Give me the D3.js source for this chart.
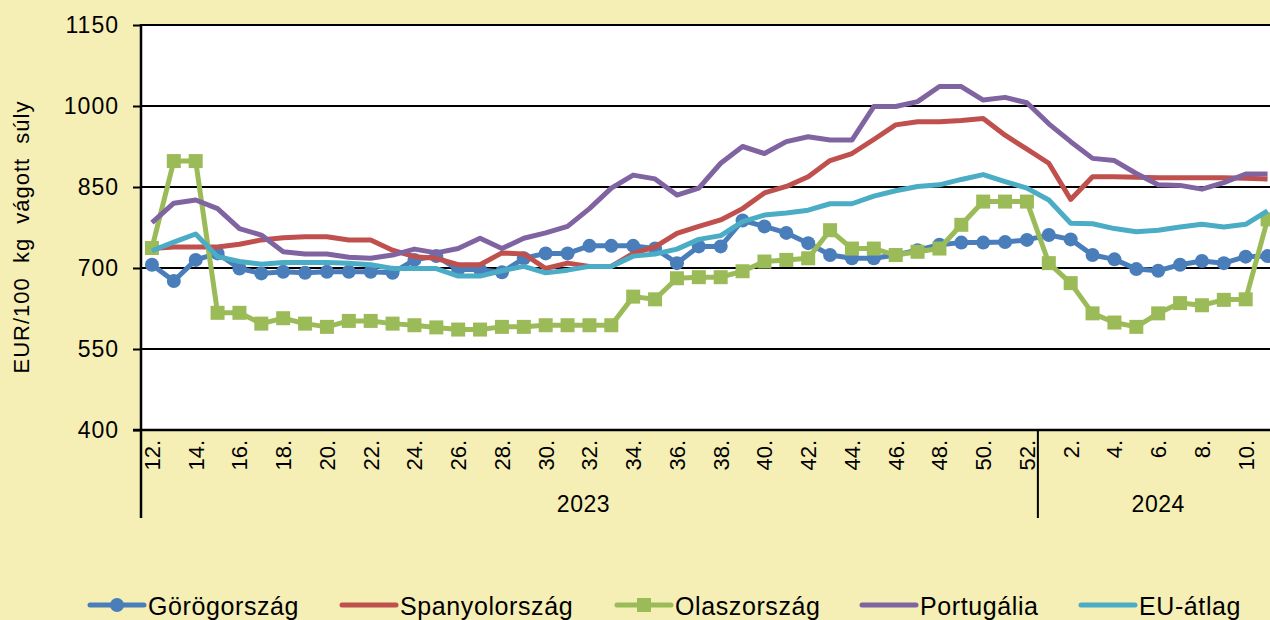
<!DOCTYPE html>
<html>
<head>
<meta charset="utf-8">
<script src="https://cdn.jsdelivr.net/npm/d3@7"></script>
<style>
  html, body { margin: 0; padding: 0; background: #f5efb5; overflow: hidden; }
  svg { display: block; font-family: "Liberation Sans", Arial, sans-serif; }
</style>
</head>
<body>
<svg id="chart" width="1270" height="620"></svg>
<script>
// Weekly carcass prices, EUR/100 kg, week 12/2023 – week 11/2024
const weeks2023 = [12,13,14,15,16,17,18,19,20,21,22,23,24,25,26,27,28,29,30,31,32,33,34,35,36,37,38,39,40,41,42,43,44,45,46,47,48,49,50,51,52];
const weeks2024 = [1,2,3,4,5,6,7,8,9,10,11];
const years = ["2023", "2024"];
const yTicks = [400, 550, 700, 850, 1000, 1150];

const greece = [706,676,715,727,699,690,693,691,693,693,693,691,715,722,697,697,692,718,727,727,741,741,741,736,709,740,740,788,777,765,746,724,718,718,724,733,743,747,747,748,752,761,753,724,716,698,695,706,713,709,721,722];
const spain = [736,739,739,739,744,752,756,758,758,752,752,733,721,718,706,706,728,726,699,709,703,703,727,739,764,777,789,810,839,851,869,899,912,938,965,971,971,973,977,946,920,894,827,869,869,868,867,867,867,867,866,865];
const italy = [737,898,898,617,617,597,607,597,591,602,602,597,594,590,586,586,591,591,594,594,594,594,647,642,681,683,683,694,712,715,718,770,736,736,724,730,736,780,823,823,823,709,672,616,599,591,616,635,631,641,642,790];
const portugal = [784,820,826,810,773,761,730,726,726,720,718,724,735,728,736,755,736,755,765,777,810,848,872,865,835,848,894,925,912,934,943,937,937,999,999,1008,1036,1036,1011,1016,1006,967,934,903,899,875,854,853,846,858,874,874];
const euAvg = [732,748,763,721,712,707,710,710,710,709,706,699,699,699,685,685,695,703,691,696,703,703,722,726,735,753,760,786,798,802,807,819,819,833,843,851,854,864,873,860,848,826,783,782,773,767,770,776,781,776,781,806];

const seriesNames = ["Görögország", "Spanyolország", "Olaszország", "Portugália", "EU-átlag"];
const seriesColors = ["#4a7ebb", "#c0504d", "#9bbb59", "#8064a2", "#4bacc6"];
const seriesMarkers = ["circle", "none", "square", "none", "none"];
const seriesValues = [greece, spain, italy, portugal, euAvg];

// category keys: year + week
const cats = [
  ...weeks2023.map(w => ({ year: "2023", week: w })),
  ...weeks2024.map(w => ({ year: "2024", week: w }))
];
const keys = cats.map(c => c.year + "-" + c.week);

const svg = d3.select("#chart");
const plotLeft = 141, plotTop = 25, plotBottom = 430;
const step = 21.875;
const plotRight = plotLeft + step * cats.length;

const x = d3.scaleBand().domain(keys).range([plotLeft, plotRight]).padding(0);
const y = d3.scaleLinear().domain([400, 1150]).range([plotBottom, plotTop]);
const cx = k => x(k) + x.bandwidth() / 2;

// plot area
svg.append("rect")
  .attr("x", plotLeft).attr("y", plotTop)
  .attr("width", plotRight - plotLeft).attr("height", plotBottom - plotTop)
  .attr("fill", "#ffffff");

// horizontal gridlines
svg.append("g").selectAll("line")
  .data(yTicks.filter(t => t > 400))
  .join("line")
  .attr("x1", plotLeft).attr("x2", plotRight)
  .attr("y1", d => y(d)).attr("y2", d => y(d))
  .attr("stroke", "#000").attr("stroke-width", 2);

// y axis
const yAxis = d3.axisLeft(y).tickValues(yTicks).tickSize(8).tickPadding(14).tickFormat(d3.format("d"));
const gy = svg.append("g").attr("transform", `translate(${plotLeft},0)`).call(yAxis);
gy.select(".domain").remove();
gy.selectAll(".tick line").attr("stroke", "#000").attr("stroke-width", 2);
gy.selectAll(".tick text")
  .attr("fill", "#000")
  .style("font-size", "23px")
  .style("letter-spacing", "1px");

// axis lines
svg.append("line")
  .attr("x1", plotLeft).attr("x2", plotLeft).attr("y1", plotTop - 1).attr("y2", 518)
  .attr("stroke", "#000").attr("stroke-width", 2.5);
svg.append("line")
  .attr("x1", plotLeft - 8).attr("x2", plotRight).attr("y1", plotBottom).attr("y2", plotBottom)
  .attr("stroke", "#000").attr("stroke-width", 2.5);

// year separator
const sepX = x("2024-1");
svg.append("line")
  .attr("x1", sepX).attr("x2", sepX).attr("y1", plotBottom).attr("y2", 518)
  .attr("stroke", "#000").attr("stroke-width", 2);

// week tick labels (every second week), rotated
const labelCats = cats.filter(c => c.week % 2 === 0);
svg.append("g").selectAll("text")
  .data(labelCats)
  .join("text")
  .attr("transform", c => `translate(${cx(c.year + "-" + c.week) + 8},${plotBottom + 10}) rotate(-90)`)
  .attr("text-anchor", "end")
  .style("font-size", "22px")
  .attr("fill", "#000")
  .text(c => c.week + ".");

// year labels
years.forEach(yr => {
  const ks = keys.filter(k => k.startsWith(yr));
  const x0 = x(ks[0]), x1 = x(ks[ks.length - 1]) + x.bandwidth();
  svg.append("text")
    .attr("x", (x0 + x1) / 2 - (yr === "2023" ? 6 : 0))
    .attr("y", 512)
    .attr("text-anchor", "middle")
    .style("font-size", "23px")
    .style("letter-spacing", "0.5px")
    .attr("fill", "#000")
    .text(yr);
});

// y axis title
svg.append("text")
  .attr("transform", "translate(29,237) rotate(-90)")
  .attr("text-anchor", "middle")
  .style("font-size", "22px")
  .style("letter-spacing", "1px")
  .style("word-spacing", "7px")
  .attr("fill", "#000")
  .text("EUR/100 kg vágott súly");

// series
const line = d3.line().x((v, i) => cx(keys[i])).y(v => y(v));
const gSeries = svg.append("g");
seriesValues.forEach((vals, si) => {
  const g = gSeries.append("g");
  g.append("path")
    .attr("d", line(vals))
    .attr("fill", "none")
    .attr("stroke", seriesColors[si])
    .attr("stroke-width", 5)
    .attr("stroke-linejoin", "round");
  if (seriesMarkers[si] === "circle") {
    g.selectAll("circle").data(vals).join("circle")
      .attr("cx", (v, i) => cx(keys[i])).attr("cy", v => y(v))
      .attr("r", 7).attr("fill", seriesColors[si]);
  } else if (seriesMarkers[si] === "square") {
    g.selectAll("rect").data(vals).join("rect")
      .attr("x", (v, i) => cx(keys[i]) - 7).attr("y", v => y(v) - 7)
      .attr("width", 14).attr("height", 14).attr("fill", seriesColors[si]);
  }
});

// legend
const legendX = [90, 342, 617, 862, 1081];
const legendY = 605;
seriesNames.forEach((name, si) => {
  const g = svg.append("g").attr("transform", `translate(${legendX[si]},${legendY})`);
  g.append("line").attr("x1", 0).attr("x2", 54).attr("y1", 0).attr("y2", 0)
    .attr("stroke", seriesColors[si]).attr("stroke-width", 5).attr("stroke-linecap", "round");
  if (seriesMarkers[si] === "circle") {
    g.append("circle").attr("cx", 27).attr("cy", 0).attr("r", 7).attr("fill", seriesColors[si]);
  } else if (seriesMarkers[si] === "square") {
    g.append("rect").attr("x", 20).attr("y", -7).attr("width", 14).attr("height", 14).attr("fill", seriesColors[si]);
  }
  g.append("text").attr("x", 58).attr("y", 10)
    .style("font-size", "25px")
    .style("letter-spacing", "0.6px")
    .attr("fill", "#000")
    .text(name);
});
</script>
</body>
</html>
